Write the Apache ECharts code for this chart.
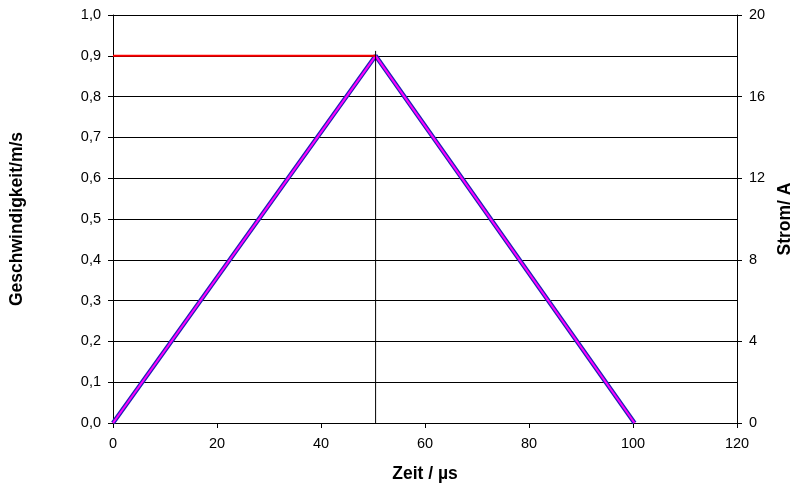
<!DOCTYPE html>
<html>
<head>
<meta charset="utf-8">
<script src="https://cdn.jsdelivr.net/npm/echarts@6/dist/echarts.min.js"></script>
<style>
  html, body { margin: 0; padding: 0; background: #fff; }
  #chart { width: 793px; height: 488px; }
</style>
</head>
<body>
<div id="chart"></div>
<script>
// Time axis (µs) and the triangular velocity / current profiles
const zeit = [0, 50.5, 100.3];
const strom = [0, 18, 0];            // current in A (right axis)
const geschwindigkeit = [0, 0.9, 0]; // velocity in m/s (left axis)
// Constant velocity reference up to the peak
const sollZeit = [0, 50.5];
const sollWert = [0.9, 0.9];
// Vertical marker at the peak time
const markerZeit = [50.5, 50.5];
const markerWert = [0, 0.912];

const xTicks = { min: 0, max: 120, interval: 20 };
const yLeftTicks = { min: 0, max: 1, interval: 0.1 };
const yRightTicks = { min: 0, max: 20, interval: 4 };

const pairs = (xs, ys) => xs.map((x, i) => [x, ys[i]]);

const font = 'Liberation Sans, Arial, sans-serif';
const tickFont = { fontFamily: font, fontSize: 14.5, color: '#000' };
const titleFont = { fontFamily: font, fontSize: 17.5, fontWeight: 'bold', color: '#000' };

const chart = echarts.init(document.getElementById('chart'));
chart.setOption({
  animation: false,
  backgroundColor: '#fff',
  grid: { left: 113, right: 56, top: 15, bottom: 65, containLabel: false, outerBoundsMode: 'none' },
  xAxis: {
    type: 'value',
    min: xTicks.min, max: xTicks.max, interval: xTicks.interval,
    name: 'Zeit / µs',
    nameLocation: 'middle',
    nameGap: 42,
    nameTextStyle: titleFont,
    axisLine: { lineStyle: { color: '#000', width: 1 } },
    axisTick: { show: true, length: 5, lineStyle: { color: '#000' } },
    axisLabel: Object.assign({ margin: 13 }, tickFont),
    splitLine: { show: false }
  },
  yAxis: [
    {
      type: 'value',
      position: 'left',
      min: yLeftTicks.min, max: yLeftTicks.max, interval: yLeftTicks.interval,
      name: 'Geschwindigkeit/m/s',
      nameLocation: 'middle',
      nameGap: 87,
      nameRotate: 90,
      nameTextStyle: titleFont,
      axisLine: { show: true, lineStyle: { color: '#000', width: 1 } },
      axisTick: { show: true, length: 5, lineStyle: { color: '#000' } },
      axisLabel: Object.assign({
        margin: 12,
        formatter: v => v.toFixed(1).replace('.', ',')
      }, tickFont),
      splitLine: { show: true, lineStyle: { color: '#000', width: 1 } }
    },
    {
      type: 'value',
      position: 'right',
      min: yRightTicks.min, max: yRightTicks.max, interval: yRightTicks.interval,
      name: 'Strom/ A',
      nameLocation: 'middle',
      nameGap: 37,
      nameRotate: 90,
      nameTextStyle: titleFont,
      axisLine: { show: true, lineStyle: { color: '#000', width: 1 } },
      axisTick: { show: true, length: 5, lineStyle: { color: '#000' } },
      axisLabel: Object.assign({ margin: 12 }, tickFont),
      splitLine: { show: false }
    }
  ],
  series: [
    {
      name: 'Strom',
      type: 'line',
      yAxisIndex: 1,
      data: pairs(zeit, strom),
      showSymbol: false,
      lineStyle: { color: '#2020b8', width: 4.5 },
      z: 2
    },
    {
      name: 'Geschwindigkeit',
      type: 'line',
      yAxisIndex: 0,
      data: pairs(zeit, geschwindigkeit),
      showSymbol: false,
      lineStyle: { color: '#ff00ff', width: 2 },
      z: 3
    },
    {
      name: 'Sollwert',
      type: 'line',
      yAxisIndex: 0,
      data: pairs(sollZeit, sollWert),
      showSymbol: false,
      lineStyle: { color: '#ff0000', width: 2 },
      z: 4
    },
    {
      name: 'Marker',
      type: 'line',
      yAxisIndex: 0,
      data: pairs(markerZeit, markerWert),
      showSymbol: false,
      lineStyle: { color: '#000', width: 1 },
      z: 5
    }
  ]
});
</script>
</body>
</html>
